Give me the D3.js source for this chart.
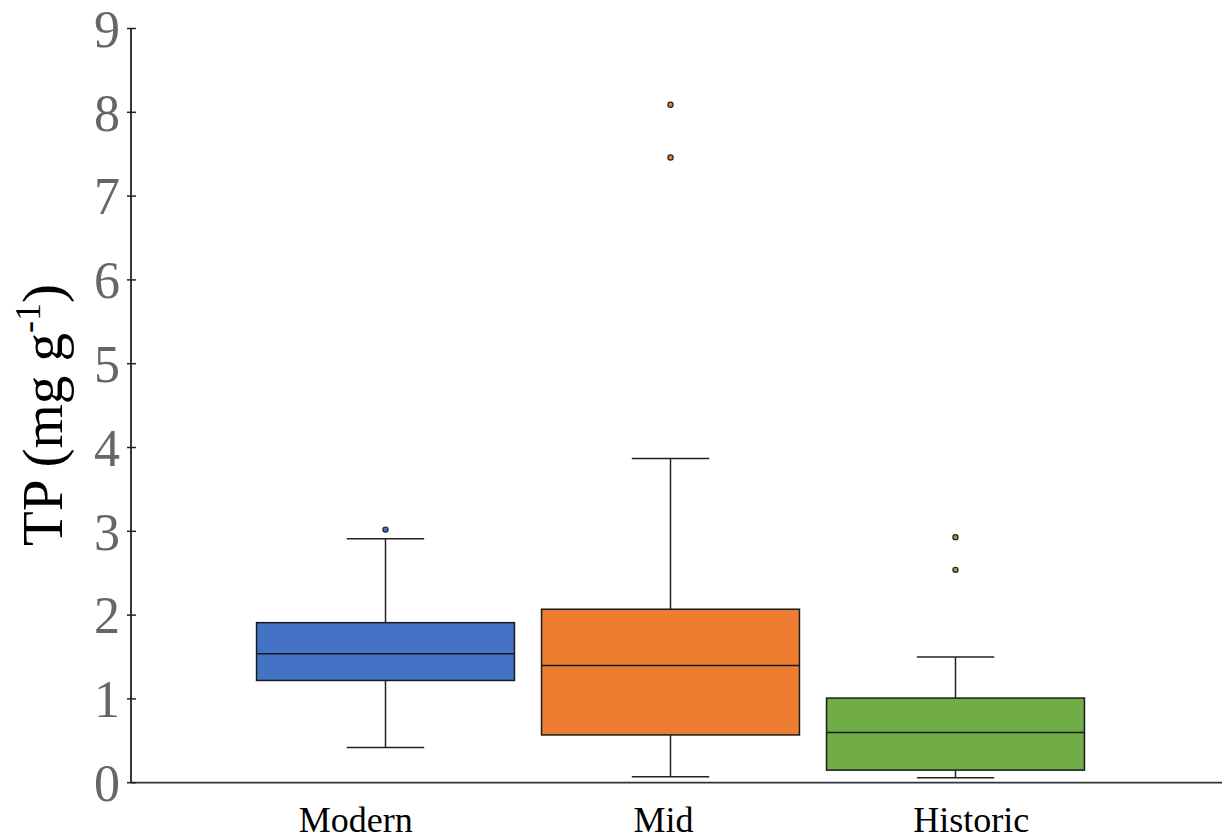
<!DOCTYPE html>
<html>
<head>
<meta charset="utf-8">
<script src="https://cdn.jsdelivr.net/npm/d3@7"></script>
<style>
  html, body { margin: 0; padding: 0; background: #fff; }
  svg { display: block; }
</style>
</head>
<body>
<svg id="chart" width="1222" height="839"></svg>
<script>
const categories = ["Modern", "Mid", "Historic"];
const colors = ["#4472C4", "#ED7D31", "#70AD47"];
const whiskerLow = [0.42, 0.07, 0.06];
const q1 = [1.22, 0.57, 0.15];
const median = [1.54, 1.40, 0.60];
const q3 = [1.91, 2.07, 1.01];
const whiskerHigh = [2.91, 3.87, 1.50];
const outliers = [[3.02], [7.46, 8.09], [2.54, 2.93]];
const yTicks = [0, 1, 2, 3, 4, 5, 6, 7, 8, 9];

const svg = d3.select("#chart");
const axisX = 131, y0 = 782.7, yTop = 28.5, xEnd = 1222;

const y = d3.scaleLinear().domain([0, 9]).range([y0, yTop]);
const x = d3.scaleBand().domain(categories).range([243, 1098]).padding(0);
const xLab = d3.scaleBand().domain(categories).range([202, 1125]).padding(0);
const boxW = x.bandwidth() * 0.905;
const capW = boxW * 0.3;

const data = categories.map((c, i) => ({
  c, color: colors[i], lo: whiskerLow[i], q1: q1[i], med: median[i], q3: q3[i], hi: whiskerHigh[i], out: outliers[i]
}));

const g = svg.append("g");

data.forEach(d => {
  const cx = x(d.c) + x.bandwidth() / 2;
  const gg = g.append("g");
  gg.append("line").attr("x1", cx).attr("x2", cx).attr("y1", y(d.hi)).attr("y2", y(d.q3))
    .attr("stroke", "#222").attr("stroke-width", 1.5);
  gg.append("line").attr("x1", cx).attr("x2", cx).attr("y1", y(d.q1)).attr("y2", y(d.lo))
    .attr("stroke", "#222").attr("stroke-width", 1.5);
  gg.append("line").attr("x1", cx - capW / 2).attr("x2", cx + capW / 2).attr("y1", y(d.hi)).attr("y2", y(d.hi))
    .attr("stroke", "#222").attr("stroke-width", 1.5);
  gg.append("line").attr("x1", cx - capW / 2).attr("x2", cx + capW / 2).attr("y1", y(d.lo)).attr("y2", y(d.lo))
    .attr("stroke", "#222").attr("stroke-width", 1.5);
  gg.append("rect").attr("x", cx - boxW / 2).attr("width", boxW)
    .attr("y", y(d.q3)).attr("height", y(d.q1) - y(d.q3))
    .attr("fill", d.color).attr("stroke", "#1a1a1a").attr("stroke-width", 1.5);
  gg.append("line").attr("x1", cx - boxW / 2).attr("x2", cx + boxW / 2).attr("y1", y(d.med)).attr("y2", y(d.med))
    .attr("stroke", "#1a1a1a").attr("stroke-width", 1.5);
  gg.selectAll("circle").data(d.out).enter().append("circle")
    .attr("cx", cx).attr("cy", v => y(v)).attr("r", 2.6)
    .attr("fill", d.color).attr("stroke", "#222").attr("stroke-width", 1.2);
});

svg.append("line").attr("x1", axisX).attr("x2", xEnd).attr("y1", y0).attr("y2", y0)
  .attr("stroke", "#333").attr("stroke-width", 1.8);
svg.append("line").attr("x1", axisX).attr("x2", axisX).attr("y1", y(9)).attr("y2", y0)
  .attr("stroke", "#222").attr("stroke-width", 1.8);

const yt = svg.append("g");
yTicks.forEach(t => {
  yt.append("line").attr("x1", axisX - 4).attr("x2", axisX + 5).attr("y1", y(t)).attr("y2", y(t))
    .attr("stroke", "#222").attr("stroke-width", 1.5);
  yt.append("text").attr("x", 120).attr("y", y(t)).attr("dy", "0.35em")
    .attr("text-anchor", "end").attr("font-family", "Liberation Serif, Times New Roman, serif")
    .attr("font-size", 52).attr("fill", "#666").text(t);
});

categories.forEach(c => {
  svg.append("text").attr("x", xLab(c) + xLab.bandwidth() / 2).attr("y", 832)
    .attr("text-anchor", "middle").attr("font-family", "Liberation Serif, Times New Roman, serif")
    .attr("font-size", 36).attr("fill", "#000").text(c);
});

const title = svg.append("text").attr("transform", "translate(62,415) rotate(-90)")
  .attr("text-anchor", "middle").attr("font-family", "Liberation Serif, Times New Roman, serif")
  .attr("font-size", 57).attr("fill", "#000");
title.append("tspan").text("TP (mg g");
title.append("tspan").attr("font-size", 36).attr("dy", -22).text("-1");
title.append("tspan").attr("dy", 22).text(")");
</script>
</body>
</html>
